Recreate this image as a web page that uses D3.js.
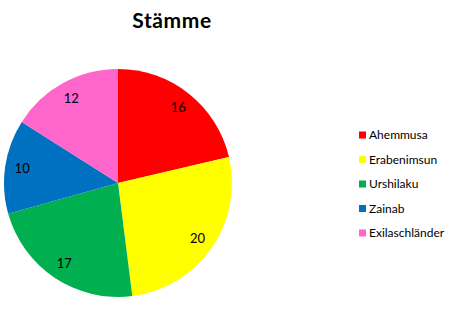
<!DOCTYPE html>
<html>
<head>
<meta charset="utf-8">
<script src="https://cdn.jsdelivr.net/npm/d3@7"></script>
<style>
  body { margin: 0; background: #fff; }
  svg { display: block; font-family: Lato, "Open Sans", sans-serif; }
</style>
</head>
<body>
<script>
// Chart data
const categories = ["Ahemmusa", "Erabenimsun", "Urshilaku", "Zainab", "Exilaschländer"];
const values = [16, 20, 17, 10, 12];
const colors = ["#FF0000", "#FFFF00", "#00B050", "#0070C0", "#FF66CC"];

const width = 456, height = 322;
const cx = 118, cy = 183, radius = 114;

const svg = d3.select("body").append("svg")
  .attr("width", width)
  .attr("height", height);

svg.append("text")
  .attr("x", 172)
  .attr("y", 28)
  .attr("text-anchor", "middle")
  .attr("font-size", 21)
  .attr("letter-spacing", 0.6)
  .attr("font-weight", "bold")
  .text("Stämme");

const data = categories.map((c, i) => ({ name: c, value: values[i], color: colors[i] }));

const pie = d3.pie().value(d => d.value).sort(null);
const arc = d3.arc().innerRadius(0).outerRadius(radius);
const labelArc = d3.arc().innerRadius(radius * 0.85).outerRadius(radius * 0.85);

const g = svg.append("g").attr("transform", `translate(${cx},${cy})`);
const arcs = pie(data);

g.selectAll("path")
  .data(arcs)
  .join("path")
  .attr("d", arc)
  .attr("fill", d => d.data.color);

g.selectAll("text")
  .data(arcs)
  .join("text")
  .attr("transform", d => `translate(${labelArc.centroid(d)})`)
  .attr("text-anchor", "middle")
  .attr("dy", "0.35em")
  .attr("font-size", 13)
  .attr("fill", "#000")
  .text(d => d.data.value);

// Legend
const legend = svg.append("g").attr("transform", "translate(359,135)");
const item = legend.selectAll("g")
  .data(data)
  .join("g")
  .attr("transform", (d, i) => `translate(0,${i * 24.5})`);

item.append("rect")
  .attr("x", 0)
  .attr("y", -3.5)
  .attr("width", 7)
  .attr("height", 7)
  .attr("fill", d => d.color);

item.append("text")
  .attr("x", 10)
  .attr("dy", "0.35em")
  .attr("font-size", 12)
  .attr("fill", "#000")
  .text(d => d.name);
</script>
</body>
</html>
